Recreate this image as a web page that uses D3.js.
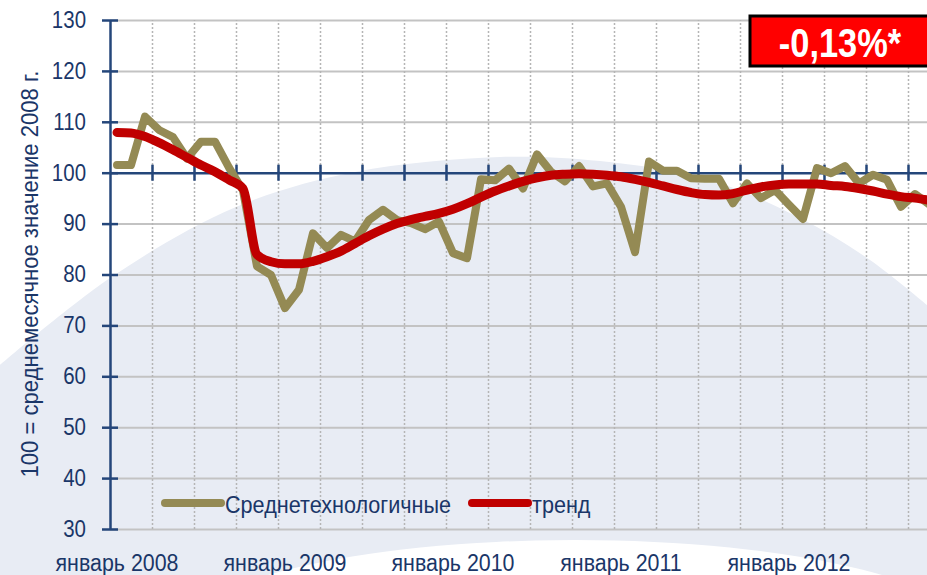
<!DOCTYPE html>
<html>
<head>
<meta charset="utf-8">
<script src="https://cdn.jsdelivr.net/npm/d3@7"></script>
<style>
  body { margin: 0; background: #fff; }
  svg { display: block; font-family: "Liberation Sans", Arial, sans-serif; }
</style>
</head>
<body>
<svg id="chart"></svg>
<script>
// data, one value per month starting January 2008
const startYear = 2008
const yearLabels = ["январь 2008", "январь 2009", "январь 2010", "январь 2011", "январь 2012"]
const yTicks = [30, 40, 50, 60, 70, 80, 90, 100, 110, 120, 130]
const medTech = [
	101.5, 101.5, 111.0, 108.4, 107.0, 102.8, 106.1, 106.1, 101.0, 96.5, 81.6, 79.9,
	73.4, 77.0, 88.1, 85.2, 87.8, 86.5, 90.7, 92.7, 90.7, 90.1, 88.9, 90.4,
	84.2, 83.2, 98.7, 98.5, 100.8, 96.9, 103.6, 100.2, 98.3, 101.3, 97.3, 97.9,
	93.3, 84.4, 102.2, 100.4, 100.4, 98.9, 98.8, 98.8, 94.0, 97.9, 95.0, 96.6,
	93.7, 90.9, 100.9, 99.9, 101.3, 97.9, 99.6, 98.6, 93.3, 95.8, 93.8
]
const trend = [
	107.9, 107.8, 107.1, 105.9, 104.5, 103.0, 101.5, 100.2, 98.6, 96.9, 83.9, 82.5,
	82.1, 82.1, 82.6, 83.5, 84.6, 86.1, 87.6, 88.9, 90.0, 90.8, 91.4, 92.0,
	92.8, 93.9, 95.2, 96.4, 97.4, 98.3, 99.0, 99.5, 99.7, 99.8, 99.7, 99.5,
	99.2, 98.7, 98.1, 97.4, 96.7, 96.1, 95.7, 95.6, 95.9, 96.6, 97.2, 97.6,
	97.8, 97.8, 97.8, 97.5, 97.3, 96.9, 96.4, 95.8, 95.3, 95.0, 94.6
]
const seriesNames = ["Среднетехнологичные", "тренд"]
const badgeText = "-0,13%*"
const yTitle = "100 = среднемесячное значение 2008 г."

const width = 927, height = 575
const navy = "#24467a", textCol = "#1a3668"
const svg = d3.select("#chart").attr("width", width).attr("height", height)

// the original font is a bit narrower than Liberation Sans, squeeze the glyphs
function squeeze(sel, k) {
	sel.each(function () {
		const n = this.getComputedTextLength()
		d3.select(this).attr("textLength", n * k).attr("lengthAdjust", "spacingAndGlyphs")
	})
}

// months on a linear scale, 60 months (2008-2012), right part is cut by the canvas
const x = d3.scaleLinear().domain([0, 60]).range([110, 950])
const y = d3.scaleLinear().domain([30, 130]).range([529, 20])

// background blob
const blob = [[0, 365], [110, 278], [236, 207], [355, 172], [500, 157], [600, 161],
	[710, 180], [800, 218], [870, 260], [927, 305]]
svg.append("path")
	.attr("d", d3.line().curve(d3.curveCatmullRom)(blob) + "L927,575L0,575Z")
	.attr("fill", "#e8ecf4")
svg.append("ellipse")
	.attr("cx", 575).attr("cy", 640).attr("rx", 404).attr("ry", 100)
	.attr("fill", "#fff")

// horizontal grid
const gridY = svg.append("g")
	.attr("transform", "translate(110,0)")
	.call(d3.axisRight(y).tickValues(yTicks.filter(d => d != 100)).tickSize(width - 110).tickFormat(""))
gridY.select(".domain").remove()
gridY.selectAll(".tick line").attr("stroke", "#c3c3c3").attr("stroke-width", 2)

// vertical dotted grid, every quarter
const quarters = d3.range(3, 61, 3)
const gridX = svg.append("g")
	.attr("transform", `translate(0,${y(30)})`)
	.call(d3.axisBottom(x).tickValues(quarters).tickSize(-(y(30) - y(130))).tickFormat(""))
gridX.select(".domain").remove()
gridX.selectAll(".tick line")
	.attr("stroke", "#b5b5b5")
	.attr("stroke-width", 1.5)
	.attr("stroke-dasharray", "2,2")

// axis at 100
const xAxis = svg.append("g")
	.attr("transform", `translate(0,${y(100)})`)
	.call(d3.axisBottom(x).tickValues(quarters).tickSizeOuter(0).tickFormat(""))
xAxis.select(".domain").attr("stroke", navy).attr("stroke-width", 2.5)
xAxis.selectAll(".tick line").attr("y1", -8).attr("y2", 8).attr("stroke", navy).attr("stroke-width", 2.5)

// y axis with crossing ticks
const yAxis = svg.append("g")
	.attr("transform", "translate(110,0)")
	.call(d3.axisLeft(y).tickValues(yTicks).tickSize(8).tickSizeOuter(0).tickPadding(16))
yAxis.select(".domain").attr("stroke", navy).attr("stroke-width", 2.5)
yAxis.selectAll(".tick line").attr("x2", 8).attr("x1", -8).attr("stroke", navy).attr("stroke-width", 2.5)
yAxis.selectAll("text")
	.attr("font-size", 23)
	.attr("font-family", "'Liberation Sans', Arial, sans-serif")
	.attr("fill", textCol)
	.call(squeeze, 0.89)

// year labels under the plot
svg.append("g").selectAll("text")
	.data(yearLabels)
	.join("text")
	.attr("x", (d, i) => x(i * 12 + 0.5))
	.attr("y", 571)
	.attr("text-anchor", "middle")
	.attr("font-size", 23)
	.attr("fill", textCol)
	.text(d => d)
	.call(squeeze, 0.93)

// y title
svg.append("text")
	.attr("transform", "translate(38,274) rotate(-90)")
	.attr("text-anchor", "middle")
	.attr("font-size", 24)
	.attr("fill", textCol)
	.text(yTitle)
	.call(squeeze, 0.92)

// lines
const line = d3.line()
	.x((d, i) => x(i + 0.5))
	.y(d => y(d))
svg.append("path")
	.datum(medTech)
	.attr("fill", "none")
	.attr("stroke", "#948a54")
	.attr("stroke-width", 8)
	.attr("stroke-linejoin", "round")
	.attr("stroke-linecap", "round")
	.attr("d", line)
svg.append("path")
	.datum(trend)
	.attr("fill", "none")
	.attr("stroke", "#c00000")
	.attr("stroke-width", 9)
	.attr("stroke-linejoin", "round")
	.attr("stroke-linecap", "round")
	.attr("d", line.curve(d3.curveMonotoneX))

// legend
const legend = [
	{ name: seriesNames[0], color: "#948a54", x0: 165 },
	{ name: seriesNames[1], color: "#c00000", x0: 472 }
]
const lg = svg.append("g").selectAll("g").data(legend).join("g")
lg.append("line")
	.attr("x1", d => d.x0).attr("x2", d => d.x0 + 56)
	.attr("y1", 503).attr("y2", 503)
	.attr("stroke", d => d.color)
	.attr("stroke-width", 8)
	.attr("stroke-linecap", "round")
lg.append("text")
	.attr("x", d => d.x0 + 60)
	.attr("y", 513)
	.attr("font-size", 24)
	.attr("fill", textCol)
	.text(d => d.name)
	.call(squeeze, 0.9)

// badge
svg.append("rect")
	.attr("x", 750).attr("y", 16).attr("width", 190).attr("height", 50)
	.attr("fill", "#ff0000").attr("stroke", "#000").attr("stroke-width", 3)
svg.append("text")
	.attr("x", 840).attr("y", 57)
	.attr("text-anchor", "middle")
	.attr("font-size", 40)
	.attr("font-weight", "bold")
	.attr("fill", "#fff")
	.text(badgeText)
	.call(squeeze, 0.86)
</script>
</body>
</html>
